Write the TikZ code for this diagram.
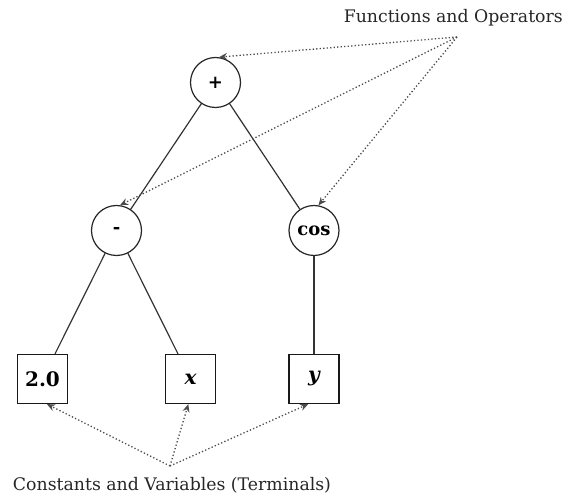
\documentclass[tikz,border=0pt]{standalone}
\usepackage{fontspec}
\setmainfont{DejaVu Serif}
\usetikzlibrary{arrows.meta}
\begin{document}
\begin{tikzpicture}[x=1pt,y=-1pt,
  opnode/.style={circle,draw=black!85,line width=1.2pt,minimum size=50pt,inner sep=0pt,
    font=\fontsize{18}{20}\selectfont\bfseries},
  termnode/.style={rectangle,draw=black!90,line width=1.2pt,minimum width=50pt,minimum height=49pt,inner sep=0pt,
    font=\fontsize{20}{22}\selectfont\bfseries},
  edge/.style={line width=1.2pt,draw=black!80},
  pointer/.style={line width=1.3pt,dash pattern=on 1.3pt off 2.2pt,draw=black!70,
    -{Stealth[length=8pt,width=7pt,fill=black]}},
  caption/.style={font=\fontsize{17.3}{20}\selectfont,text=black!85,inner sep=0pt}]
\useasboundingbox (0,0) rectangle (563,497);

% operators
\node[opnode] (plus)  at (215.5,82.5) {+};
\node[opnode] (minus) at (116.5,230.5) {-};
\node[opnode] (cos)   at (314,230.5) {cos};

% terminals
\node[termnode] (two) at (42.5,379) {2.0};
\node[termnode] (xv)  at (190.5,379) {\itshape x};
\node[termnode] (yv)  at (314,379) {\itshape y};

% tree edges
\draw[edge] (plus) -- (minus);
\draw[edge] (plus) -- (cos);
\draw[edge] (minus) -- (two);
\draw[edge] (minus) -- (xv);
\draw[edge] (cos) -- (yv);

% labels
\node[caption,anchor=east] (funcs) at (563,18) {Functions and Operators};
\node[caption] (terms) at (172,485) {Constants and Variables (Terminals)};

\coordinate (ftop) at (457,37);
\coordinate (tbot) at (170,466);

% pointers
\draw[pointer] (ftop) -- (plus.82);
\draw[pointer] (ftop) -- (minus.82);
\draw[pointer] (ftop) -- (cos.80);
\draw[pointer] (tbot) -- (two.-80);
\draw[pointer] (tbot) -- (xv.-95);
\draw[pointer] (tbot) -- (yv.-103);
\end{tikzpicture}
\end{document}
